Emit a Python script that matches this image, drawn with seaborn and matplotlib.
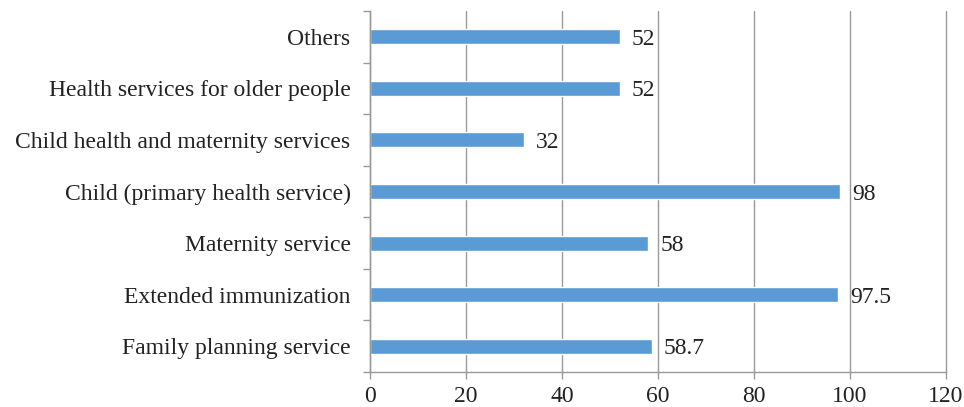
import matplotlib
matplotlib.use("Agg")
import matplotlib.pyplot as plt
import seaborn as sns
import pandas as pd
import numpy as np

categories = ["Others", "Health services for older people",
              "Child health and maternity services",
              "Child (primary health service)", "Maternity service",
              "Extended immunization", "Family planning service"]
values = [52, 52, 32, 98, 58, 97.5, 58.7]
value_labels = ["52", "52", "32", "98", "58", "97.5", "58.7"]
x_ticks = [0, 20, 40, 60, 80, 100, 120]

sns.set_theme(style="white")
plt.rcParams["font.family"] = ["Liberation Serif", "DejaVu Serif"]

df = pd.DataFrame({"category": categories, "value": values})

fig = plt.figure(figsize=(9.64, 4.07), dpi=100)
ax = fig.add_axes([370/964, 1 - 372/407, (946-370)/964, (372-11)/407])

sns.barplot(data=df, y="category", x="value", orient="h", color="#5B9BD5",
            saturation=1, width=0.29, ax=ax)

ax.set_xlim(0, 120)
ax.set_ylim(6.5, -0.5)
ax.set_xticks(x_ticks)
ax.set_xticklabels([str(t) for t in x_ticks], fontsize=17, color="#222222")
ax.set_xlabel("")
ax.set_ylabel("")
ax.tick_params(axis="y", labelsize=17, labelcolor="#222222", length=0, pad=14)
ax.set_yticks(np.arange(-0.5, 7.0, 1.0), minor=True)
ax.tick_params(axis="y", which="minor", length=5, width=1, color="#999999", left=True)
ax.tick_params(axis="x", length=5, width=1, color="#999999", bottom=True, pad=5)

ax.grid(axis="x", color="#999999", linewidth=1)
for gl in ax.get_xgridlines():
    gl.set_clip_on(False)
ax.set_axisbelow(True)
for s in ["top", "right"]:
    ax.spines[s].set_visible(False)
for s in ["left", "bottom"]:
    ax.spines[s].set_color("#999999")
    ax.spines[s].set_linewidth(1)

for i, (v, lab) in enumerate(zip(values, value_labels)):
    ax.text(v + 2.5, i + 0.05, lab, va="center", ha="left", fontsize=17, color="#222222")

fig.savefig("out.png", dpi=100)
